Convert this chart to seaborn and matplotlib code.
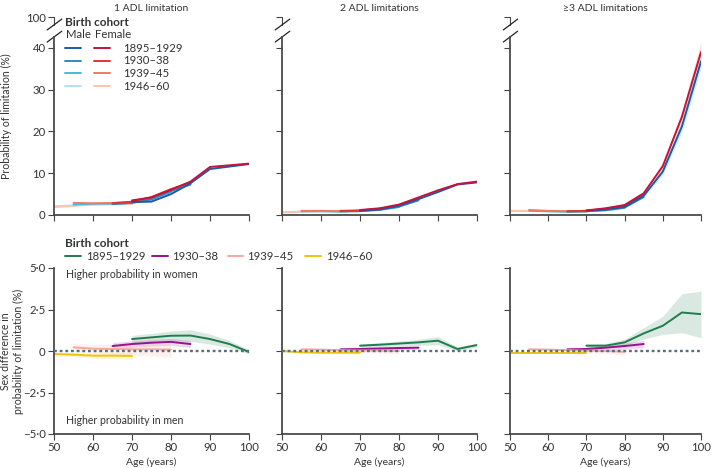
import numpy as np
import pandas as pd
import matplotlib
matplotlib.use("Agg")
import matplotlib.pyplot as plt
import seaborn as sns
from matplotlib.lines import Line2D

# ---------------- data ----------------
cohorts = ["1895–1929", "1930–38", "1939–45", "1946–60"]
ages_1895 = [70, 75, 80, 85, 90, 95, 100]
ages_1930 = [65, 70, 75, 80, 85]
ages_1939 = [55, 60, 65, 70, 75, 80]
ages_1946 = [50, 55, 60, 65, 70]

panel_titles = ["1 ADL limitation", "2 ADL limitations", "≥3 ADL limitations"]

# Probability of limitation (%), top row
adl1_male = {"1895–1929": [3.1, 3.2, 5.0, 7.6, 11.0, 11.6, 12.2],
             "1930–38": [2.6, 2.9, 3.8, 5.7, 7.3],
             "1939–45": [2.5, 2.7, 2.7, 2.9, 3.7, 5.5],
             "1946–60": [2.1, 2.3, 2.5, 2.6, 2.7]}
adl1_female = {"1895–1929": [3.5, 4.2, 6.0, 8.0, 11.5, 11.9, 12.3],
               "1930–38": [2.8, 3.2, 4.3, 6.2, 7.8],
               "1939–45": [2.9, 2.8, 2.9, 3.1, 4.2, 6.1],
               "1946–60": [1.9, 2.2, 2.5, 2.6, 2.6]}
adl2_male = {"1895–1929": [1.0, 1.3, 2.2, 3.8, 5.5, 7.3, 7.8],
             "1930–38": [0.9, 1.0, 1.3, 2.0, 3.5],
             "1939–45": [0.9, 0.9, 0.8, 0.9, 1.2, 1.9],
             "1946–60": [0.7, 0.8, 0.9, 0.9, 0.9]}
adl2_female = {"1895–1929": [1.2, 1.6, 2.5, 4.2, 5.9, 7.4, 8.0],
               "1930–38": [1.0, 1.1, 1.5, 2.3, 3.8],
               "1939–45": [1.0, 1.0, 0.9, 1.0, 1.4, 2.1],
               "1946–60": [0.6, 0.8, 0.9, 0.9, 0.9]}
adl3_male = {"1895–1929": [1.0, 1.3, 1.9, 4.6, 10.4, 21.2, 36.8],
             "1930–38": [0.8, 0.9, 1.2, 1.8, 4.3],
             "1939–45": [1.0, 0.9, 0.8, 0.9, 1.1, 1.7],
             "1946–60": [1.0, 1.0, 0.9, 0.8, 0.8]}
adl3_female = {"1895–1929": [1.1, 1.6, 2.4, 5.2, 11.7, 23.5, 39.0],
               "1930–38": [0.9, 1.0, 1.5, 2.2, 4.8],
               "1939–45": [1.2, 1.0, 0.9, 1.0, 1.3, 2.0],
               "1946–60": [0.9, 1.0, 0.9, 0.8, 0.8]}
# CI for oldest cohort, >=3 ADL
adl3_male_lo = [0.9, 1.2, 1.7, 4.2, 9.6, 19.8, 35.0]
adl3_male_hi = [1.1, 1.4, 2.1, 5.0, 11.2, 22.6, 38.6]
adl3_female_lo = [1.0, 1.4, 2.2, 4.8, 10.9, 22.0, 36.5]
adl3_female_hi = [1.2, 1.8, 2.6, 5.6, 12.5, 25.0, 41.5]

# Sex difference (women - men), bottom row
diff1 = {"1895–1929": [0.72, 0.82, 0.92, 0.93, 0.72, 0.42, -0.06],
         "1930–38": [0.30, 0.42, 0.50, 0.55, 0.42],
         "1939–45": [0.22, 0.14, 0.12, 0.10, 0.10, 0.08],
         "1946–60": [-0.18, -0.22, -0.28, -0.28, -0.30]}
diff1_hw = {"1895–1929": [0.22, 0.24, 0.28, 0.35, 0.30, 0.22, 0.12],
            "1930–38": [0.20, 0.20, 0.20, 0.20, 0.22],
            "1939–45": [0.25, 0.25, 0.30, 0.35, 0.40, 0.45],
            "1946–60": [0.12, 0.12, 0.15, 0.17, 0.20]}
diff2 = {"1895–1929": [0.32, 0.38, 0.45, 0.52, 0.62, 0.12, 0.36],
         "1930–38": [0.10, 0.12, 0.15, 0.18, 0.20],
         "1939–45": [0.10, 0.08, 0.05, 0.03, 0.02, 0.00],
         "1946–60": [0.00, -0.08, -0.10, -0.10, -0.10]}
diff2_hw = {"1895–1929": [0.10, 0.12, 0.15, 0.18, 0.25, 0.12, 0.12],
            "1930–38": [0.10, 0.10, 0.10, 0.10, 0.10],
            "1939–45": [0.10, 0.10, 0.12, 0.12, 0.14, 0.15],
            "1946–60": [0.06, 0.06, 0.06, 0.06, 0.06]}
diff3 = {"1895–1929": [0.32, 0.32, 0.52, 1.06, 1.52, 2.32, 2.22],
         "1930–38": [0.10, 0.12, 0.20, 0.30, 0.42],
         "1939–45": [0.10, 0.08, 0.05, 0.02, 0.00, -0.05],
         "1946–60": [-0.10, -0.10, -0.10, -0.10, -0.10]}
diff3_lo = {"1895–1929": [0.20, 0.22, 0.35, 0.72, 1.00, 1.10, 0.80]}
diff3_hi = {"1895–1929": [0.44, 0.45, 0.72, 1.40, 2.10, 3.45, 3.60]}
diff3_hw = {"1930–38": [0.08, 0.10, 0.12, 0.18, 0.22],
            "1939–45": [0.10, 0.10, 0.10, 0.12, 0.15, 0.18],
            "1946–60": [0.05, 0.05, 0.05, 0.05, 0.05]}

ages = {"1895–1929": ages_1895, "1930–38": ages_1930,
        "1939–45": ages_1939, "1946–60": ages_1946}

male_colors = {"1895–1929": "#1c5aa6", "1930–38": "#2a8cc4",
               "1939–45": "#3fbde2", "1946–60": "#b3e1f2"}
female_colors = {"1895–1929": "#c4123c", "1930–38": "#e2342f",
                 "1939–45": "#f1795c", "1946–60": "#fbc4ae"}
diff_colors = {"1895–1929": "#1e7d4e", "1930–38": "#93148d",
               "1939–45": "#f5a89b", "1946–60": "#eec40e"}


def long_df(d):
    rows = []
    for c in cohorts:
        for a, v in zip(ages[c], d[c]):
            rows.append((c, a, v))
    return pd.DataFrame(rows, columns=["cohort", "age", "value"])


# ---------------- figure ----------------
sns.set_theme(style="ticks")
plt.rcParams['font.family'] = ['Lato', 'DejaVu Sans']
TXT = "#333333"
plt.rcParams.update({"axes.edgecolor": "#444444", "xtick.color": "#444444",
                     "ytick.color": "#444444", "text.color": TXT,
                     "axes.labelcolor": TXT, "xtick.labelcolor": TXT,
                     "ytick.labelcolor": TXT})

W, H = 712, 468
fig = plt.figure(figsize=(W / 100, H / 100), dpi=100)


def box(x0, x1, ytop, ybot):
    return [x0 / W, 1 - ybot / H, (x1 - x0) / W, (ybot - ytop) / H]


def fx(x):
    return x / W


def fy(y):
    return 1 - y / H


FS_TICK = 8.2
FS_LEG = 8.2
FS_HEAD = 8.2

xs = [(54, 249), (282, 477), (510, 701)]
YMAX = 47.4
top_data = [(adl1_male, adl1_female), (adl2_male, adl2_female), (adl3_male, adl3_female)]
bot_data = [diff1, diff2, diff3]

for i in range(3):
    x0, x1 = xs[i]
    ax = fig.add_axes(box(x0, x1, 17, 215))
    ax.set_xlim(50, 100)
    ax.set_ylim(0, YMAX)
    m, f = top_data[i]
    if i == 2:
        ax.fill_between(ages_1895, adl3_male_lo, adl3_male_hi, color="#cdeaf7", lw=0, alpha=0.8)
        ax.fill_between(ages_1895, adl3_female_lo, adl3_female_hi, color="#fddccd", lw=0, alpha=0.8)
    dm = long_df(m)
    dfm = long_df(f)
    for c in cohorts[::-1]:
        sns.lineplot(data=dm[dm.cohort == c], x="age", y="value", color=male_colors[c],
                     lw=1.4, ax=ax, legend=False, errorbar=None)
        sns.lineplot(data=dfm[dfm.cohort == c], x="age", y="value", color=female_colors[c],
                     lw=1.4, ax=ax, legend=False, errorbar=None)
    sns.despine(ax=ax)
    ax.spines["left"].set_bounds(0, 42.7)
    ax.spines["bottom"].set_bounds(50, 100)
    ax.plot([0, 0], [45.6, YMAX], transform=ax.get_yaxis_transform(), color="#444444",
            lw=0.8, clip_on=False)
    for yb in (42.7, 45.6):
        ax.plot([-0.035, 0.04], [yb - 1.3, yb + 1.3], transform=ax.get_yaxis_transform(),
                color="#222222", lw=0.9, clip_on=False)
    ax.set_yticks([0, 10, 20, 30, 40, YMAX])
    ax.set_xticks([50, 60, 70, 80, 90, 100])
    ax.set_xticklabels([])
    if i == 0:
        ax.set_yticklabels(["0", "10", "20", "30", "40", "100"])
    else:
        ax.set_yticklabels([])
    ax.set_xlabel("")
    ax.set_ylabel("")
    ax.tick_params(direction="out", length=4, width=0.8, labelsize=FS_TICK, pad=2)
    ax.set_title(panel_titles[i], fontsize=7.5, pad=4, color=TXT)

    # bottom row
    bx = fig.add_axes(box(x0, x1, 268, 434))
    bx.set_xlim(50, 100)
    bx.set_ylim(-5, 5)
    d = bot_data[i]
    for c in cohorts:
        a = ages[c]
        v = np.array(d[c])
        if i == 2 and c == "1895–1929":
            lo, hi = diff3_lo[c], diff3_hi[c]
        else:
            hw = np.array({0: diff1_hw, 1: diff2_hw, 2: diff3_hw}[i][c])
            lo, hi = v - hw, v + hw
        bx.fill_between(a, lo, hi, color=diff_colors[c], alpha=0.17, lw=0)
    dd = long_df(d)
    for c in cohorts:
        sns.lineplot(data=dd[dd.cohort == c], x="age", y="value", color=diff_colors[c],
                     lw=1.4, ax=bx, legend=False, errorbar=None)
    bx.axhline(0, color="#56707f", lw=1.7, ls=(0, (1.2, 1.2)), zorder=5)
    sns.despine(ax=bx)
    bx.set_yticks([-5, -2.5, 0, 2.5, 5])
    bx.set_xticks([50, 60, 70, 80, 90, 100])
    if i == 0:
        bx.set_yticklabels(["\u22125\u00b70", "\u22122\u00b75", "0", "2\u00b75", "5\u00b70"])
        bx.text(0.06, 0.96, "Higher probability in women", transform=bx.transAxes,
                fontsize=7.6, va="center", ha="left")
        bx.text(0.06, 0.08, "Higher probability in men", transform=bx.transAxes,
                fontsize=7.6, va="center", ha="left")
    else:
        bx.set_yticklabels([])
    bx.set_xlabel("Age (years)", fontsize=7.5, labelpad=3)
    bx.set_ylabel("")
    bx.tick_params(direction="out", length=4, width=0.8, labelsize=FS_TICK, pad=2)

# y labels
fig.text(fx(6), fy(116), "Probability of limitation (%)", rotation=90, ha="center",
         va="center", fontsize=7.6)
fig.text(fx(12), fy(351), "Sex difference in\nprobability of limitation (%)", rotation=90,
         ha="center", va="center", fontsize=7.6, linespacing=1.3)

# top legend (manual)
fig.text(fx(65), fy(22), "Birth cohort", fontsize=8.5, fontweight="bold", va="center")
fig.text(fx(66), fy(35), "Male", fontsize=FS_HEAD, va="center")
fig.text(fx(95), fy(35), "Female", fontsize=FS_HEAD, va="center")
for k, c in enumerate(cohorts):
    yy = fy(48 + 12.7 * k)
    fig.add_artist(Line2D([fx(65), fx(81)], [yy, yy], color=male_colors[c], lw=1.4))
    fig.add_artist(Line2D([fx(94), fx(110)], [yy, yy], color=female_colors[c], lw=1.4))
    fig.text(fx(123), yy, c, fontsize=FS_LEG, va="center")

# bottom legend (manual)
fig.text(fx(65), fy(243), "Birth cohort", fontsize=8.5, fontweight="bold", va="center")
leg_x = [(65, 81, 86), (152, 168, 172), (228, 243, 247), (305, 321, 326)]
for (l0, l1, tx), c in zip(leg_x, cohorts):
    yy = fy(256)
    fig.add_artist(Line2D([fx(l0), fx(l1)], [yy, yy], color=diff_colors[c], lw=1.4))
    fig.text(fx(tx), yy, c, fontsize=FS_LEG, va="center")

fig.savefig("out.png", dpi=100)
